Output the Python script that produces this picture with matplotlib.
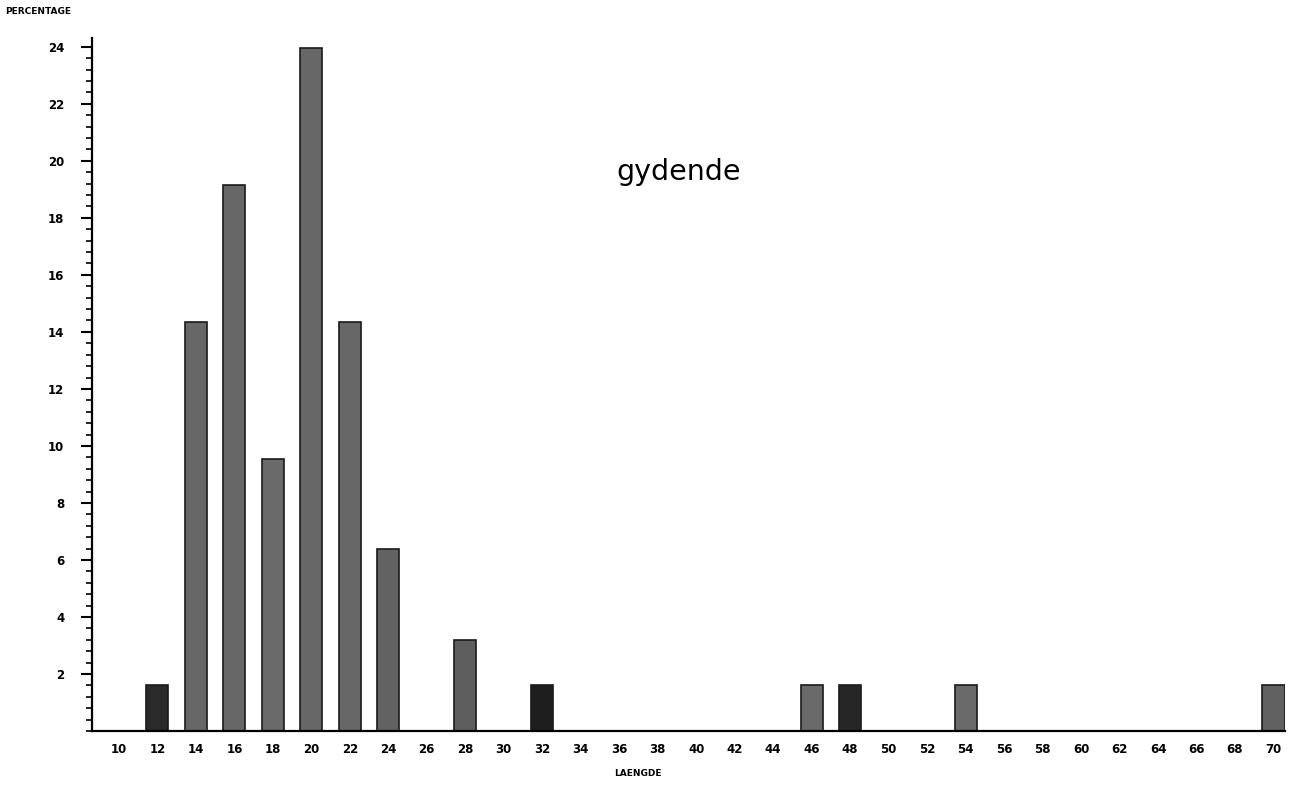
import numpy as np
import matplotlib
matplotlib.use('Agg')
import matplotlib.pyplot as plt
from matplotlib.ticker import MultipleLocator

# laengde-klasser og procentandele (aflaest fra figuren)
laengde = [12, 14, 16, 18, 20, 22, 24, 28, 32, 46, 48, 54, 70]
procent = [1.6, 14.35, 19.15, 9.55, 23.95, 14.35, 6.4, 3.2, 1.6, 1.6, 1.6, 1.6, 1.6]
# nogle saejler er trykt maerkere
farver = ['#2a2a2a', '#676767', '#676767', '#6a6a6a', '#676767', '#676767', '#626262',
          '#5e5e5e', '#1e1e1e', '#6a6a6a', '#262626', '#6a6a6a', '#606060']
xticks = list(range(10, 72, 2))
yticks = list(range(2, 26, 2))

fig = plt.figure(figsize=(12.92, 7.86), dpi=100)
ax = fig.add_axes([0.0712, 0.070, 0.9234, 0.8813])

ax.bar(laengde, procent, width=1.15, color=farver, edgecolor='#1a1a1a', linewidth=1.2)

ax.set_xlim(8.6, 70.6)
ax.set_ylim(0, 24.3)
ax.set_xticks(xticks)
ax.set_xticklabels([str(t) for t in xticks], fontsize=8.5, fontweight='bold')
ax.set_yticks(yticks)
ax.set_yticklabels([str(t) for t in yticks], fontsize=8.5, fontweight='bold')
ax.yaxis.set_minor_locator(MultipleLocator(0.4))
ax.tick_params(axis='x', length=0, pad=9)
ax.tick_params(axis='y', which='major', length=8, width=1.5, direction='out', pad=12)
ax.tick_params(axis='y', which='minor', length=4, width=1.2, direction='out')

for s in ['top', 'right']:
    ax.spines[s].set_visible(False)
ax.spines['left'].set_linewidth(1.6)
ax.spines['bottom'].set_linewidth(1.6)

ax.text(39.1, 19.6, 'gydende', fontsize=20.5, ha='center', va='center')
fig.text(0.004, 0.985, 'PERCENTAGE', fontsize=6.5, fontweight='bold', ha='left', va='center')
fig.text(0.494, 0.0165, 'LAENGDE', fontsize=6.5, fontweight='bold', ha='center', va='center')

fig.savefig('out.png', dpi=100)
